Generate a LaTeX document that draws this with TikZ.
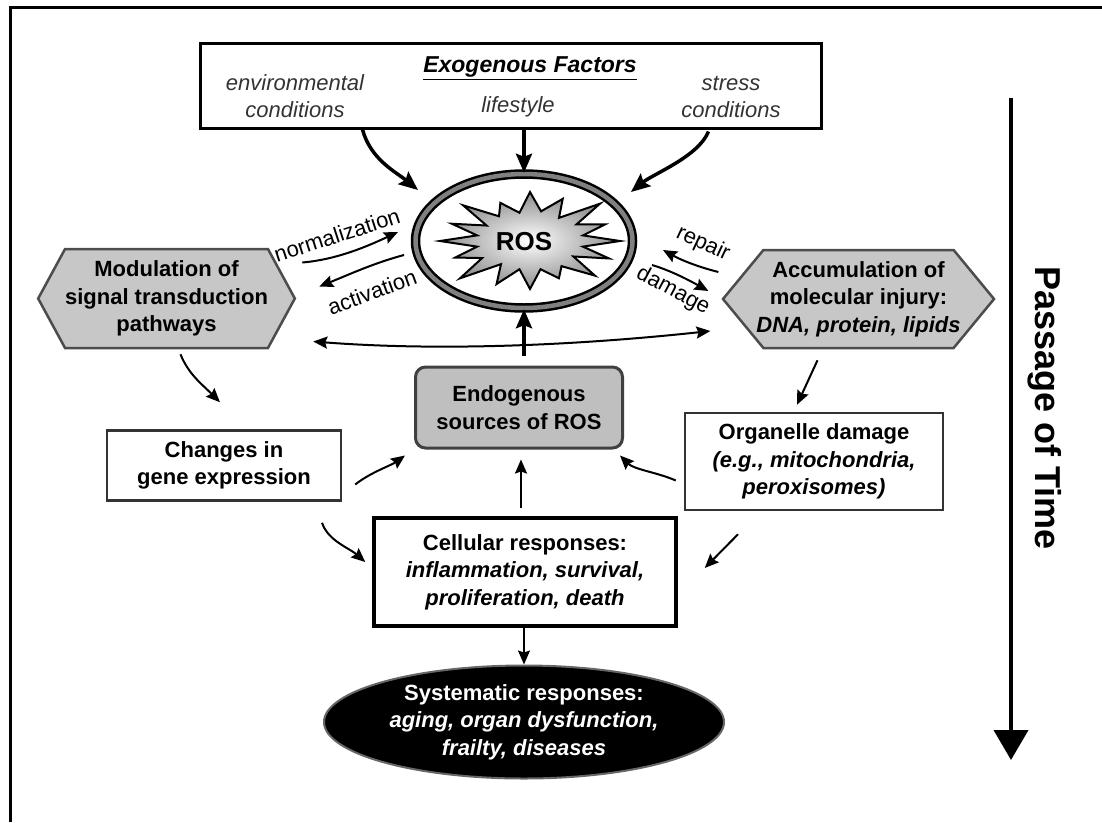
\documentclass[tikz,border=0pt]{standalone}
\usepackage{fontspec}
\setmainfont{Liberation Sans}
\usetikzlibrary{positioning, arrows.meta, shapes.symbols, shapes.geometric, calc}

\begin{document}
\begin{tikzpicture}[x=1pt, y=-1pt, >={Stealth[length=14pt, width=12pt, inset=2pt]}]
    % Styles
    \tikzstyle{txt}=[font=\fontsize{22}{27.5}\selectfont, align=center, inner sep=0pt]
    \tikzstyle{btxt}=[txt, font=\fontsize{22}{27.5}\selectfont\bfseries]
    \tikzstyle{itxt}=[txt, font=\fontsize{22}{27}\selectfont\itshape, text=black!80]
    \tikzstyle{hexa}=[btxt, signal, signal to=west and east, draw=black!70, fill=black!22, line width=2.5pt]
    \tikzstyle{plainbox}=[btxt, rectangle, draw=black!80, line width=2.5pt]
    \tikzstyle{arrow}=[line width=2pt]
    \tikzstyle{bigarrow}=[-{Stealth[length=19pt, width=16pt, inset=3pt]}, line width=3.5pt]

    \useasboundingbox (0,0) rectangle (1102,822);
    \draw[line width=3pt] (1102,7) -- (10,7) -- (10,822);

    % Nodes
    \node[rectangle, draw, line width=3pt, minimum width=621, minimum height=85] (exo) at (510.5,85.5) {};
    \node[btxt, font=\fontsize{23}{27}\selectfont\bfseries\itshape] (exot) at (530,68) {\underline{Exogenous Factors}};
    \node[itxt] (env) at (295,96.5) {environmental\\conditions};
    \node[itxt] (life) at (518,107) {lifestyle};
    \node[itxt] (stress) at (731,96.5) {stress\\conditions};

    \node[ellipse, draw=black, line width=2.5pt, double=black!50, double distance=4.5pt,
          minimum width=217, minimum height=134] (ros) at (524,241) {};
    % starburst
    \coordinate (burst) at (530,241);
    \shadedraw[line width=2pt, inner color=white, outer color=black!45]
        ($(burst)+(0:90 and 48)$)
        \foreach \r [count=\i] in {.6,.95,.58,1.02,.63,.84,.6,1,.6,.97,.58,1.1,.64,.9,.6,1,.6,.94,.58,1.05,.62,.86,.6,1.02,.63,.95,.58,1.1,.62,.9,.6}
        { -- ($(burst)+({\i*11.25}:{90*\r} and {48*\r})$) } -- cycle;
    \node[btxt, font=\fontsize{26}{28}\selectfont\bfseries] (rostxt) at (524,242) {ROS};

    \node[hexa, signal pointer angle=123, minimum width=220, minimum height=99] (mod) at (166.5,298.5)
        {Modulation of\\signal transduction\\pathways};
    \node[hexa, signal pointer angle=101, minimum width=271, minimum height=98] (acc) at (858.5,299)
        {Accumulation of\\molecular injury:\\\makebox[170pt]{\textit{DNA, protein, lipids}}};

    \node[plainbox, rounded corners=10pt, fill=black!25, draw=black!75, line width=3pt,
          minimum width=207, minimum height=81] (endo) at (519,407.5) {Endogenous\\sources of ROS};
    \node[plainbox, minimum width=234, minimum height=70] (gene) at (224,465.5) {Changes in\\gene expression};
    \node[plainbox, minimum width=258, minimum height=97] (org) at (814,461.5)
        {Organelle damage\\\textit{(e.g., mitochondria,}\\\textit{peroxisomes)}};
    \node[plainbox, draw=black, line width=3.5pt, minimum width=302, minimum height=108] (cell) at (525,572)
        {Cellular responses:\\\textit{inflammation, survival,}\\\textit{proliferation, death}};
    \node[btxt, ellipse, fill=black, draw=black!60, line width=2pt, text=white,
          minimum width=400, minimum height=113] (sys) at (524,722)
        {Systematic responses:\\\textit{aging, organ dysfunction,}\\\textit{frailty, diseases}};

    % Labels
    \node[txt, rotate=18] (norm) at (337,235) {normalization};
    \node[txt, rotate=20] (act) at (372,292) {activation};
    \node[txt, rotate=-25] (rep) at (703,244) {repair};
    \node[txt, rotate=-28] (dam) at (673,291) {damage};

    % Time
    \coordinate (tstart) at (1011,98);
    \coordinate (tend) at (1011,760);
    \draw[line width=4pt, -{Triangle[length=30pt, width=34pt]}] (tstart) -- (tend);
    \node[txt, font=\fontsize{36}{40}\selectfont\bfseries, rotate=-90] (time) at (1045,408) {Passage of Time};

    % Arrows
    \draw[bigarrow] ($(exo.south)+(-148,0)$) .. controls +(8,30) and +(-22,-18) .. ($(ros.center)+(-106,-51)$);
    \draw[bigarrow] (exo.south -| ros.north) -- (ros.north);
    \draw[bigarrow] ($(exo.south)+(198,2)$) .. controls +(-10,25) and +(22,-18) .. ($(ros.center)+(107,-49)$);
    \draw[bigarrow] ($(endo.north -| ros.south)+(0,-10)$) -- (ros.south);

    \draw[arrow, ->] ($(mod.east)+(6,-36)$) .. controls +(35,-3) and +(-30,14) .. ($(ros.center)+(-126,-9)$);
    \draw[arrow, ->] ($(ros.center)+(-120,14)$) .. controls +(-30,8) and +(30,-12) .. ($(mod.east)+(23,-12)$);
    \draw[arrow, ->] ($(acc.west)+(-3,-27)$) .. controls +(-20,-5) and +(18,10) .. ($(ros.center)+(139,9)$);
    \draw[arrow, ->] ($(ros.center)+(128,24)$) .. controls +(20,6) and +(-18,-10) .. ($(acc.west)+(-13,-8)$);
    \draw[arrow, <->] ($(mod.east)+(17,43)$) .. controls +(130,10) and +(-130,14) .. ($(acc.west)+(-11,32)$);

    \draw[arrow, ->] ($(mod.south)+(14,5)$) .. controls +(8,20) and +(-18,-18) .. ($(gene.north)+(-4,-27)$);
    \draw[arrow, ->] ($(acc.south)+(-41,11)$) -- ($(org.north)+(-17,-7)$);
    \draw[arrow, ->] ($(gene.east)+(13,19)$) .. controls +(15,-12) and +(-14,10) .. ($(endo.west)+(-9,48)$);
    \draw[arrow, ->] ($(cell.north -| endo.south)+(2,-8)$) -- ($(endo.south)+(2,10)$);
    \draw[arrow, ->] ($(org.west)+(-8,19)$) .. controls +(-18,-8) and +(14,14) .. ($(endo.east)+(-4,48)$);
    \draw[arrow, ->] ($(gene.south)+(98,21)$) .. controls +(6,18) and +(-16,-14) .. ($(cell.west)+(-7,-10)$);
    \draw[arrow, ->] ($(org.south)+(-76,23)$) -- ($(cell.east)+(27,-4)$);
    \draw[arrow, ->, line width=1.6pt] (cell.south -| sys.north) -- (sys.north);

\end{tikzpicture}
\end{document}
